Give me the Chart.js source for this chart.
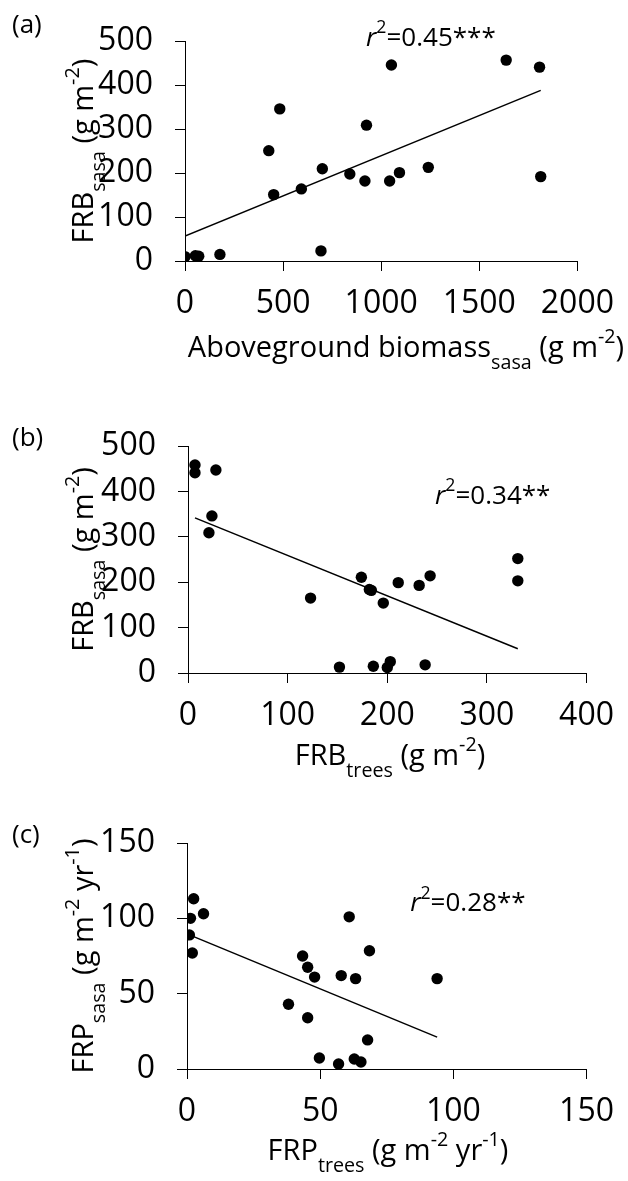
<!DOCTYPE html>
<html>
<head>
<meta charset="utf-8">
<script src="https://cdn.jsdelivr.net/npm/chart.js@4.4.0/dist/chart.umd.min.js"></script>
<style>
  body { margin: 0; background: #fff; }
  .wrap { position: relative; width: 628px; height: 1181px; }
  .wrap canvas { position: absolute; left: 0; }
</style>
</head>
<body>
<div class="wrap">
  <canvas id="chartA"></canvas>
  <canvas id="chartB"></canvas>
  <canvas id="chartC"></canvas>
</div>
<script>
'use strict';

// (a) aboveground biomass of sasa vs fine root biomass of sasa
const biomassSasa = [0, 53, 70, 178, 427, 452, 483, 593, 693, 700, 840, 917, 925, 1043, 1052, 1093, 1240, 1637, 1807, 1813];
const frbSasaA    = [10, 12, 11, 15, 251, 151, 346, 164, 23, 210, 198, 182, 309, 182, 446, 201, 213, 457, 441, 192];
const fitA = { intercept: 57, slope: 0.1826 };
const r2A = '0.45***';

// (b) fine root biomass of trees vs fine root biomass of sasa
const frbTrees = [7, 7, 28, 24, 21, 123, 152, 174, 182, 184, 186, 196, 200, 203, 211, 232, 238, 243, 331, 331];
const frbSasaB = [458, 441, 447, 346, 309, 165, 13, 211, 184, 182, 15, 154, 12, 25, 199, 193, 18, 214, 252, 203];
const fitB = { intercept: 348, slope: -0.89 };
const r2B = '0.34**';

// (c) fine root production of trees vs fine root production of sasa
const frpTrees = [2.5, 1.3, 6.2, 0.9, 2, 43.4, 45.3, 47.9, 38.1, 45.3, 49.7, 56.9, 57.9, 60.9, 63.3, 62.8, 65.3, 67.8, 68.5, 93.9];
const frpSasa  = [113, 100, 103, 89, 77, 75, 67.5, 61, 43, 34, 7.3, 3.3, 62, 101, 60, 6.6, 4.6, 19.3, 78.5, 60];
const fitC = { intercept: 89.7, slope: -0.73 };
const r2C = '0.28**';

// axis ranges / ticks
const xTicksA = { max: 2000, step: 500 };
const yTicksA = { max: 500, step: 100 };
const xTicksB = { max: 400, step: 100 };
const yTicksB = { max: 500, step: 100 };
const xTicksC = { max: 150, step: 50 };
const yTicksC = { max: 150, step: 50 };

const FONT = "'Open Sans', sans-serif";

function toPoints(xs, ys) {
  return xs.map((x, i) => ({ x: x, y: ys[i] }));
}

function fitLine(xs, fit) {
  const lo = Math.min(...xs);
  const hi = Math.max(...xs);
  return [lo, hi].map(x => ({ x: x, y: fit.intercept + fit.slope * x }));
}

// text made of parts (normal / sub / sup / italic)
function richWidth(ctx, parts, size) {
  let w = 0;
  parts.forEach(p => {
    const s = (p.sub || p.sup) ? size * 0.68 : size;
    ctx.font = (p.italic ? 'italic ' : '') + s + 'px ' + FONT;
    w += ctx.measureText(p.t).width;
  });
  return w;
}
function richDraw(ctx, parts, size, x, y) {
  ctx.textBaseline = 'alphabetic';
  ctx.textAlign = 'left';
  parts.forEach(p => {
    const s = (p.sub || p.sup) ? size * 0.68 : size;
    ctx.font = (p.italic ? 'italic ' : '') + s + 'px ' + FONT;
    let dy = 0;
    if (p.sub) dy = size * 0.42;
    if (p.sup) dy = -size * 0.48;
    ctx.fillText(p.t, x, y + dy);
    x += ctx.measureText(p.t).width;
  });
}

const labelsPlugin = {
  id: 'labels',
  afterDraw(chart) {
    const o = chart.options.plugins.labels;
    const ctx = chart.ctx;
    const a = chart.chartArea;
    ctx.save();
    ctx.fillStyle = '#000';

    // panel tag
    ctx.font = o.tagSize + 'px ' + FONT;
    ctx.textAlign = 'left';
    ctx.textBaseline = 'alphabetic';
    ctx.fillText(o.tag, o.tagX, o.tagY);

    // x title
    const wx = richWidth(ctx, o.xTitle, o.titleSize);
    richDraw(ctx, o.xTitle, o.titleSize, o.xTitleCx - wx / 2, a.bottom + o.xTitleDy);

    // y title (rotated)
    const wy = richWidth(ctx, o.yTitle, o.titleSize);
    ctx.save();
    ctx.translate(a.left - o.yTitleDx, (a.top + a.bottom) / 2);
    ctx.rotate(-Math.PI / 2);
    richDraw(ctx, o.yTitle, o.titleSize, -wy / 2, 0);
    ctx.restore();

    // r2 note at data position
    const px = chart.scales.x.getPixelForValue(o.noteAt.x);
    const py = chart.scales.y.getPixelForValue(o.noteAt.y);
    richDraw(ctx, o.note, o.noteSize, px, py);
    ctx.restore();
  }
};

function makeChart(id, s) {
  const cv = document.getElementById(id);
  cv.width = 628;
  cv.height = s.canvasH;
  cv.style.top = s.canvasTop + 'px';

  const tickFont = { family: FONT, size: 32 };
  return new Chart(cv.getContext('2d'), {
    type: 'scatter',
    data: {
      datasets: [
        {
          data: toPoints(s.xs, s.ys),
          backgroundColor: '#000',
          borderWidth: 0,
          pointRadius: 5.7,
          pointHoverRadius: 5.7
        },
        {
          data: fitLine(s.xs, s.fit),
          showLine: true,
          borderColor: '#000',
          borderWidth: 1.5,
          pointRadius: 0
        }
      ]
    },
    options: {
      responsive: false,
      animation: false,
      layout: { padding: { left: 0, right: 628 - s.area.right, top: s.area.top, bottom: 0 } },
      plugins: {
        legend: { display: false },
        tooltip: { enabled: false },
        labels: s.labels
      },
      scales: {
        x: {
          type: 'linear',
          min: 0,
          max: s.xTicks.max,
          ticks: { stepSize: s.xTicks.step, font: tickFont, color: '#000', padding: 14, maxRotation: 0, callback: v => String(v) },
          grid: { drawOnChartArea: false, tickLength: 10, tickColor: '#000', tickWidth: 1 },
          border: { color: '#000', width: 1 },
          afterFit: sc => { sc.height = s.canvasH - s.area.bottom; }
        },
        y: {
          type: 'linear',
          min: 0,
          max: s.yTicks.max,
          ticks: { stepSize: s.yTicks.step, font: tickFont, color: '#000', padding: 22, callback: v => String(v) },
          grid: { drawOnChartArea: false, tickLength: 10, tickColor: '#000', tickWidth: 1 },
          border: { color: '#000', width: 1 },
          afterFit: sc => { sc.width = s.area.left; }
        }
      }
    },
    plugins: [labelsPlugin]
  });
}

makeChart('chartA', {
  canvasTop: 0, canvasH: 380,
  area: { left: 185, right: 584, top: 33, bottom: 261 },
  xs: biomassSasa, ys: frbSasaA, fit: fitA, xTicks: xTicksA, yTicks: yTicksA,
  labels: {
    tag: '(a)', tagSize: 26, tagX: 12, tagY: 33,
    titleSize: 29,
    xTitle: [{ t: 'Aboveground biomass' }, { t: 'sasa', sub: true }, { t: ' (g m' }, { t: '-2', sup: true }, { t: ')' }],
    xTitleCx: 406, xTitleDy: 96,
    yTitle: [{ t: 'FRB' }, { t: 'sasa', sub: true }, { t: ' (g m' }, { t: '-2', sup: true }, { t: ')' }],
    yTitleDx: 92,
    note: [{ t: 'r', italic: true }, { t: '2', sup: true }, { t: '=' + r2A }],
    noteSize: 26, noteAt: { x: 923, y: 490 }
  }
});

makeChart('chartB', {
  canvasTop: 380, canvasH: 400,
  area: { left: 188, right: 591, top: 66, bottom: 293 },
  xs: frbTrees, ys: frbSasaB, fit: fitB, xTicks: xTicksB, yTicks: yTicksB,
  labels: {
    tag: '(b)', tagSize: 26, tagX: 12, tagY: 66,
    titleSize: 29,
    xTitle: [{ t: 'FRB' }, { t: 'trees', sub: true }, { t: ' (g m' }, { t: '-2', sup: true }, { t: ')' }],
    xTitleCx: 390, xTitleDy: 92,
    yTitle: [{ t: 'FRB' }, { t: 'sasa', sub: true }, { t: ' (g m' }, { t: '-2', sup: true }, { t: ')' }],
    yTitleDx: 95,
    note: [{ t: 'r', italic: true }, { t: '2', sup: true }, { t: '=' + r2B }],
    noteSize: 26, noteAt: { x: 248, y: 373 }
  }
});

makeChart('chartC', {
  canvasTop: 780, canvasH: 401,
  area: { left: 187, right: 589, top: 63, bottom: 289 },
  xs: frpTrees, ys: frpSasa, fit: fitC, xTicks: xTicksC, yTicks: yTicksC,
  labels: {
    tag: '(c)', tagSize: 26, tagX: 12, tagY: 63,
    titleSize: 29,
    xTitle: [{ t: 'FRP' }, { t: 'trees', sub: true }, { t: ' (g m' }, { t: '-2', sup: true }, { t: ' yr' }, { t: '-1', sup: true }, { t: ')' }],
    xTitleCx: 388, xTitleDy: 91,
    yTitle: [{ t: 'FRP' }, { t: 'sasa', sub: true }, { t: ' (g m' }, { t: '-2', sup: true }, { t: ' yr' }, { t: '-1', sup: true }, { t: ')' }],
    yTitleDx: 94,
    note: [{ t: 'r', italic: true }, { t: '2', sup: true }, { t: '=' + r2C }],
    noteSize: 26, noteAt: { x: 83.8, y: 104.7 }
  }
});
</script>
</body>
</html>
